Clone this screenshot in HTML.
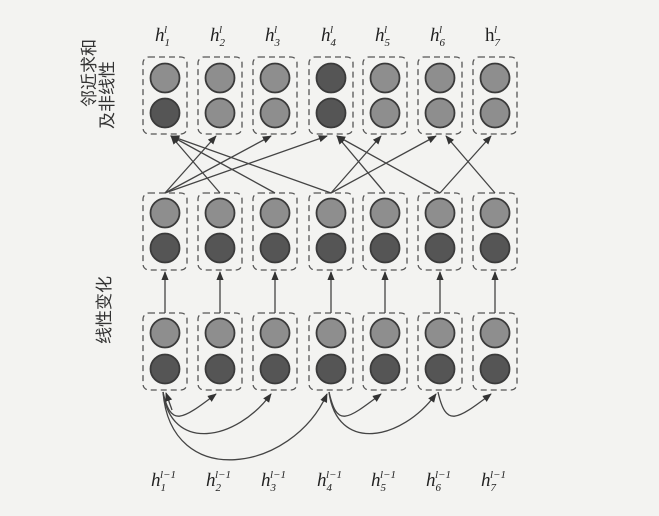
<!DOCTYPE html>
<html><head><meta charset="utf-8"><style>
html,body{margin:0;padding:0;background:#f3f3f1;}
svg{display:block;}
</style></head><body>
<svg width="659" height="516" viewBox="0 0 659 516" xmlns="http://www.w3.org/2000/svg">
<defs>
<marker id="ah" viewBox="0 0 10 10" refX="9" refY="5" markerWidth="7" markerHeight="7" orient="auto-start-reverse">
<path d="M0,1 L10,5 L0,9 z" fill="#333"/>
</marker>
</defs>
<g font-family="'Liberation Sans','Noto Sans CJK SC',sans-serif" font-size="17" fill="#333">
<text transform="translate(95,107) rotate(-90)">邻近求和</text>
<text transform="translate(113,129) rotate(-90)">及非线性</text>
<text transform="translate(110,344) rotate(-90)">线性变化</text>
</g>
<g id="g-boxes"></g>
<g id="g-arrows" stroke="#444" stroke-width="1.3" fill="none"></g>
<g id="g-labels" font-family="'Liberation Serif',serif" font-style="italic" fill="#222"></g>
</svg>
<script>
const xs=[165,220,275,331,385,440,495];
const rows=[{top:57,c1:78,c2:113,dark:[false,false,false,true,false,false,false]},
            {top:193,c1:213,c2:248,dark:[false,false,false,false,false,false,false]},
            {top:313,c1:333,c2:369,dark:[false,false,false,false,false,false,false]}];
const NS='http://www.w3.org/2000/svg';
const gb=document.getElementById('g-boxes');
function mk(t,a,p){const e=document.createElementNS(NS,t);for(const k in a)e.setAttribute(k,a[k]);p.appendChild(e);return e;}
rows.forEach((r,ri)=>{xs.forEach((x,ci)=>{
 const b=mk('rect',{x:x-22,y:r.top,width:44,height:77,rx:6,fill:'none',stroke:'#555','stroke-width':1.3,'stroke-dasharray':'6,4'},gb);
 
 
 const c1=mk('circle',{cx:x,cy:r.c1,r:14.5,fill:r.dark[ci]?'#555':'#8e8e8e',stroke:'#3a3a3a','stroke-width':1.8},gb);
 
 
 const c2=mk('circle',{cx:x,cy:r.c2,r:14.5,fill:(ri===0&&(ci===0||ci===3))||ri>0?'#555':'#8e8e8e',stroke:'#3a3a3a','stroke-width':1.8},gb);
 
 
});});
const ga=document.getElementById('g-arrows');
xs.forEach(x=>{const l=mk('line',{x1:x,y1:313,x2:x,y2:272,'marker-end':'url(#ah)'},ga);
 
 });
const edges=[[0,1],[0,2],[0,3],[1,0],[2,0],[3,0],[3,4],[3,5],[4,3],[5,3],[5,6],[6,5]];
edges.forEach(([f,t])=>{
 const dx=t>f?-4:(t<f?6:0);
 const l=mk('line',{x1:xs[f],y1:193,x2:xs[t]+dx,y2:136,'marker-end':'url(#ah)'},ga);
 
 });
const curves=[[0,1,22],[0,2,38],[0,3,62],[3,4,22],[3,5,38],[5,6,22]];
curves.forEach(([f,t,d])=>{
 const x1=xs[f]-2,x2=xs[t]-4,y=392;
 const p=mk('path',{d:`M${x1},${y} C${x1+8},${y+d*1.6} ${x2-35},${y+d*1.3} ${x2},${y+2}`,'marker-end':'url(#ah)'},ga);
 
 });
const a0=mk('line',{x1:172,y1:410,x2:166,y2:393,'marker-end':'url(#ah)'},ga);


const gl=document.getElementById('g-labels');
xs.forEach((x,i)=>{
 const t=mk('text',{x:x-10,y:41,'font-size':19},gl);
 
 
 t.innerHTML=(i===6?'<tspan font-style="normal">h</tspan>':'h')+'<tspan font-size="11" dy="5">'+(i+1)+'</tspan><tspan font-size="11" dx="-6" dy="-13">l</tspan>';
 const b=mk('text',{x:x-14,y:486,'font-size':19},gl);
 
 
 b.innerHTML='h<tspan font-size="11" dy="5">'+(i+1)+'</tspan><tspan font-size="11" dx="-6" dy="-13">l−1</tspan>';
});
</script>
</body></html>
